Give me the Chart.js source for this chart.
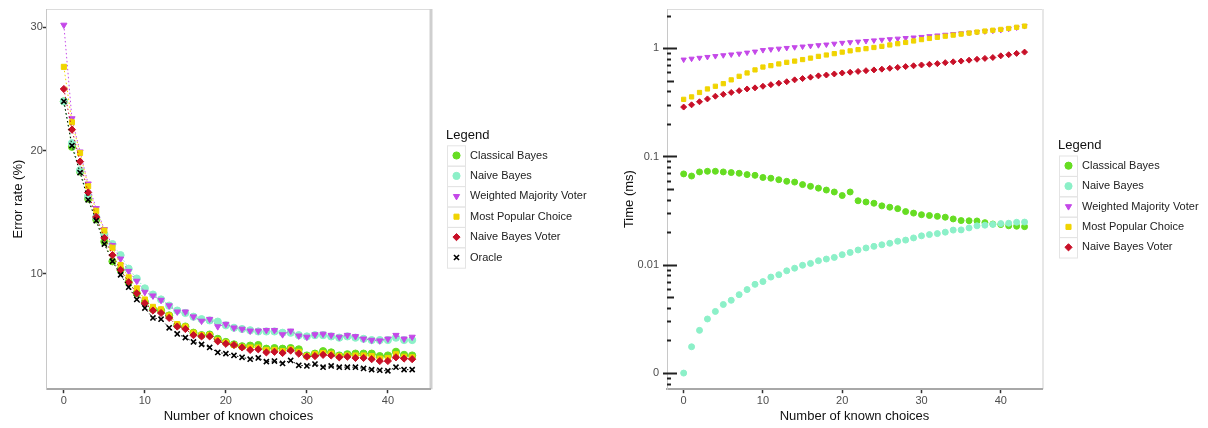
<!DOCTYPE html>
<html>
<head>
<meta charset="utf-8">
<script src="https://cdn.jsdelivr.net/npm/chart.js@4"></script>
<style>
  html, body { margin: 0; padding: 0; background: #fff; }
  #wrap { position: relative; width: 1208px; height: 428px; }
  .box { position: absolute; top: 0; height: 428px; width: 604px; }
</style>
</head>
<body>
<div id="wrap">
  <div class="box" style="left:0"><canvas id="errorChart" width="604" height="428"></canvas></div>
  <div class="box" style="left:604px"><canvas id="timeChart" width="604" height="428"></canvas></div>
</div>
<script>
// x values: number of known choices
const knownChoices = Array.from({ length: 44 }, (_, i) => i);
const choiceTicks = [0, 10, 20, 30, 40];

// left panel: error rate (%)
const errorTicks = [10, 20, 30];
const errClassicalBayes = [24.0, 20.3, 18.3, 16.1, 14.4, 12.6, 11.0, 10.3, 9.3, 8.4,
  7.7, 7.1, 7.0, 6.6, 5.8, 5.7, 5.2, 5.0, 5.05, 4.7,
  4.45, 4.25, 4.1, 4.15, 4.2, 3.9, 3.95, 3.9, 3.95, 3.85,
  3.35, 3.5, 3.7, 3.6, 3.35, 3.45, 3.5, 3.5, 3.5, 3.3,
  3.35, 3.65, 3.4, 3.35];
const errNaiveBayes = [24.0, 20.6, 18.4, 16.3, 14.6, 13.2, 12.4, 11.5, 10.4, 9.6,
  8.8, 8.3, 7.9, 7.4, 7.0, 6.8, 6.5, 6.3, 6.2, 6.1,
  5.8, 5.6, 5.5, 5.4, 5.3, 5.3, 5.3, 5.2, 5.2, 5.0,
  4.9, 5.0, 5.0, 4.9, 4.8, 4.9, 4.8, 4.7, 4.6, 4.6,
  4.6, 4.8, 4.6, 4.6];
const errWeightedMajority = [30.2, 22.6, 19.9, 17.3, 15.3, 13.6, 12.3, 11.2, 10.2, 9.4,
  8.5, 8.2, 7.85, 7.4, 6.9, 6.9, 6.5, 6.15, 6.3, 5.7,
  5.9, 5.6, 5.5, 5.35, 5.35, 5.4, 5.4, 5.05, 5.35, 4.95,
  4.85, 5.05, 5.1, 5.0, 4.85, 5.0, 4.9, 4.7, 4.6, 4.55,
  4.7, 5.0, 4.7, 4.85];
const errMostPopular = [26.8, 22.3, 19.8, 17.1, 15.1, 13.5, 12.1, 10.7, 9.7, 8.8,
  7.9, 7.3, 7.1, 6.6, 5.9, 5.7, 5.2, 5.0, 5.0, 4.6,
  4.4, 4.2, 4.05, 4.0, 4.0, 3.8, 3.8, 3.7, 3.85, 3.65,
  3.3, 3.45, 3.55, 3.5, 3.3, 3.35, 3.35, 3.35, 3.3, 3.1,
  3.15, 3.45, 3.25, 3.2];
const errNaiveBayesVoter = [25.0, 21.7, 19.1, 16.6, 14.6, 12.9, 11.5, 10.3, 9.3, 8.4,
  7.6, 7.0, 6.8, 6.4, 5.7, 5.5, 5.0, 4.9, 4.9, 4.5,
  4.3, 4.2, 4.0, 3.8, 3.85, 3.6, 3.65, 3.55, 3.75, 3.5,
  3.25, 3.3, 3.4, 3.35, 3.2, 3.25, 3.15, 3.15, 3.05, 2.9,
  2.9, 3.2, 3.1, 3.05];
const errOracle = [24.0, 20.4, 18.2, 16.0, 14.3, 12.4, 11.0, 9.9, 8.9, 7.9,
  7.2, 6.4, 6.3, 5.6, 5.1, 4.8, 4.45, 4.25, 4.0, 3.6,
  3.5, 3.35, 3.2, 3.05, 3.15, 2.85, 2.9, 2.7, 2.95, 2.55,
  2.5, 2.65, 2.4, 2.5, 2.4, 2.4, 2.4, 2.3, 2.2, 2.15,
  2.1, 2.4, 2.2, 2.2];

// right panel: time (ms), log axis; the original shows 0 at the 0.001 position
const timeTickValues = [0.001, 0.01, 0.1, 1];
const timeTickLabels = ["0", "0.01", "0.1", "1"];
const timeClassicalBayes = [0.069, 0.066, 0.072, 0.073, 0.073, 0.072, 0.071, 0.070, 0.068, 0.067,
  0.064, 0.063, 0.061, 0.059, 0.058, 0.055, 0.053, 0.051, 0.049, 0.047,
  0.0436, 0.047, 0.039, 0.038, 0.037, 0.035, 0.034, 0.033, 0.031, 0.030,
  0.029, 0.0285, 0.028, 0.0275, 0.0265, 0.0256, 0.0255, 0.0254, 0.0245, 0.0238,
  0.0235, 0.0229, 0.0227, 0.0225];
const timeNaiveBayes = [0, 0.00175, 0.00248, 0.00316, 0.00371, 0.0043, 0.0047, 0.0053, 0.0059, 0.0066,
  0.007, 0.0077, 0.0081, 0.0088, 0.0093, 0.0099, 0.0103, 0.0109, 0.0113, 0.0117,
  0.0124, 0.013, 0.0137, 0.0143, 0.0148, 0.0153, 0.0158, 0.0165, 0.0169, 0.0177,
  0.0185, 0.019, 0.0194, 0.02, 0.0209, 0.021, 0.0219, 0.0229, 0.0232, 0.0236,
  0.024, 0.0242, 0.0247, 0.0248];
const timeWeightedMajority = [0.785, 0.80, 0.815, 0.83, 0.845, 0.86, 0.875, 0.89, 0.91, 0.93,
  0.96, 0.975, 0.99, 1.005, 1.02, 1.035, 1.05, 1.065, 1.08, 1.10,
  1.12, 1.135, 1.15, 1.165, 1.18, 1.195, 1.21, 1.225, 1.24, 1.255,
  1.27, 1.29, 1.31, 1.33, 1.35, 1.37, 1.39, 1.41, 1.43, 1.45,
  1.47, 1.51, 1.55, 1.6];
const timeMostPopular = [0.337, 0.355, 0.39, 0.42, 0.445, 0.47, 0.51, 0.55, 0.59, 0.63,
  0.67, 0.69, 0.715, 0.74, 0.76, 0.785, 0.81, 0.84, 0.865, 0.89,
  0.92, 0.945, 0.97, 0.99, 1.015, 1.04, 1.07, 1.1, 1.13, 1.165,
  1.2, 1.23, 1.26, 1.29, 1.32, 1.35, 1.38, 1.41, 1.44, 1.465,
  1.49, 1.52, 1.56, 1.6];
const timeNaiveBayesVoter = [0.286, 0.30, 0.32, 0.34, 0.36, 0.375, 0.39, 0.405, 0.42, 0.43,
  0.445, 0.46, 0.475, 0.49, 0.51, 0.524, 0.54, 0.555, 0.565, 0.578,
  0.59, 0.60, 0.61, 0.62, 0.63, 0.64, 0.652, 0.664, 0.676, 0.688,
  0.70, 0.71, 0.72, 0.735, 0.748, 0.76, 0.775, 0.79, 0.805, 0.82,
  0.85, 0.87, 0.895, 0.92];

const seriesStyle = {
  classical: { label: "Classical Bayes", color: "rgb(102, 221, 34)", pointStyle: "circle", rotation: 0 },
  naive: { label: "Naive Bayes", color: "rgb(140, 240, 200)", pointStyle: "circle", rotation: 0 },
  weighted: { label: "Weighted Majority Voter", color: "rgb(196, 72, 232)", pointStyle: "triangle", rotation: 180 },
  popular: { label: "Most Popular Choice", color: "rgb(240, 212, 0)", pointStyle: "rect", rotation: 0 },
  voter: { label: "Naive Bayes Voter", color: "rgb(200, 16, 40)", pointStyle: "rectRot", rotation: 0 },
  oracle: { label: "Oracle", color: "rgb(0, 0, 0)", pointStyle: "crossRot", rotation: 0 },
};

Chart.defaults.font.family = "'Liberation Sans', Arial, sans-serif";
Chart.defaults.animation = false;

// panel frame: light top/right border
const panelFrame = {
  id: "panelFrame",
  beforeDraw(chart) {
    const { ctx, chartArea: a } = chart;
    ctx.save();
    ctx.strokeStyle = "#dcdcdc";
    ctx.lineWidth = 1;
    ctx.beginPath();
    ctx.moveTo(a.left, a.top + 0.5);
    ctx.lineTo(a.right, a.top + 0.5);
    ctx.stroke();
    ctx.lineWidth = chart.options.frameRight || 1;
    ctx.strokeStyle = "#cfcfcf";
    ctx.beginPath();
    ctx.moveTo(a.right + 1, a.top);
    ctx.lineTo(a.right + 1, a.bottom);
    ctx.stroke();
    ctx.restore();
  },
};

// log-axis ticks: long at decades, short in between
const logTicks = {
  id: "logTicks",
  afterDraw(chart) {
    const y = chart.scales.y;
    const { ctx } = chart;
    const x0 = chart.chartArea.left;
    ctx.save();
    ctx.strokeStyle = "#222";
    ctx.lineWidth = 2;
    for (let d = 0.0001; d <= 1; d *= 10) {
      for (let m = 1; m <= 9; m++) {
        const v = d * m;
        if (v < y.min || v > y.max) continue;
        const py = Math.round(y.getPixelForValue(v)) + 0.5;
        let a = x0, b = x0 + 4;
        if (m === 1) { a = x0 - 4; b = x0 + 10; }
        else if (m === 5) { b = x0 + 7; }
        ctx.beginPath();
        ctx.moveTo(a, py);
        ctx.lineTo(b, py);
        ctx.stroke();
      }
    }
    ctx.restore();
  },
};

// ggplot-like legend with key boxes, placed right of the panel
const keyLegend = {
  id: "keyLegend",
  afterDraw(chart) {
    const { ctx, chartArea: a } = chart;
    const sets = chart.data.datasets;
    const rowH = 20.4;
    const x = a.right + 17;
    const mid = 206.5;
    const y0 = mid - (sets.length * rowH) / 2;
    ctx.save();
    ctx.font = "13px 'Liberation Sans', Arial, sans-serif";
    ctx.fillStyle = "#111";
    ctx.textBaseline = "middle";
    ctx.textAlign = "left";
    ctx.fillText("Legend", x - 1, y0 - 10);
    sets.forEach((ds, i) => {
      const cy = y0 + i * rowH + rowH / 2;
      ctx.strokeStyle = "#e4e4e4";
      ctx.lineWidth = 1;
      ctx.strokeRect(x + 0.5, y0 + i * rowH + 0.5, 18, rowH);
      ctx.fillStyle = ds.pointBackgroundColor;
      ctx.strokeStyle = ds.pointBorderColor;
      ctx.lineWidth = ds.pointBorderWidth;
      Chart.helpers.drawPoint(ctx, {
        pointStyle: ds.pointStyle,
        rotation: ds.pointRotation,
        radius: 3.6,
        borderWidth: ds.pointBorderWidth,
      }, x + 9.5, cy);
      ctx.font = "11px 'Liberation Sans', Arial, sans-serif";
      ctx.fillStyle = "#222";
      ctx.fillText(ds.label, x + 23, cy);
    });
    ctx.restore();
  },
};

function makeDataset(key, values, opts) {
  const s = seriesStyle[key];
  return {
    label: s.label,
    data: values.map((v, i) => ({ x: knownChoices[i], y: v })),
    pointStyle: s.pointStyle,
    pointRotation: s.rotation,
    backgroundColor: s.color,
    borderColor: s.color,
    pointBorderColor: s.color,
    pointBackgroundColor: s.color,
    pointBorderWidth: key === "oracle" ? 1.6 : 1,
    pointRadius: opts.radius,
    borderWidth: 1,
    borderDash: [1.5, 2.5],
    showLine: opts.line,
    order: opts.order,
  };
}

function xAxis() {
  return {
    type: "linear",
    min: -2.1,
    max: 45.2,
    afterBuildTicks: (s) => { s.ticks = choiceTicks.map((v) => ({ value: v })); },
    grid: { drawOnChartArea: false, tickLength: 4, tickColor: "#333", tickWidth: 1.5 },
    border: { display: true, color: "#a8a8a8", width: 2 },
    ticks: { color: "#4d4d4d", font: { size: 11 }, padding: 1, maxRotation: 0 },
    title: { display: true, text: "Number of known choices", color: "#111", font: { size: 13 }, padding: { top: 0, bottom: 4 } },
  };
}

// left chart: error rate
const errKeys = ["classical", "naive", "weighted", "popular", "voter", "oracle"];
const errSeries = [errClassicalBayes, errNaiveBayes, errWeightedMajority, errMostPopular, errNaiveBayesVoter, errOracle];
new Chart(document.getElementById("errorChart"), {
  type: "scatter",
  data: {
    datasets: errKeys.map((k, i) => makeDataset(k, errSeries[i], { radius: 3.6, line: true, order: errKeys.length - i })),
  },
  options: {
    responsive: false,
    frameRight: 3,
    layout: { padding: { top: 9, left: 11, right: 174, bottom: 0 } },
    plugins: { legend: { display: false }, tooltip: { enabled: false } },
    scales: {
      x: xAxis(),
      y: {
        type: "linear",
        min: 0.61,
        max: 31.5,
        afterBuildTicks: (s) => { s.ticks = errorTicks.map((v) => ({ value: v })); },
        grid: { drawOnChartArea: false, tickLength: 4, tickColor: "#333", tickWidth: 1.5 },
        border: { display: true, color: "#c8c8c8", width: 1 },
        ticks: { color: "#4d4d4d", font: { size: 11 }, padding: 0 },
        title: { display: true, text: "Error rate (%)", color: "#111", font: { size: 13 }, padding: { top: 0, bottom: 4 } },
      },
    },
  },
  plugins: [panelFrame, keyLegend],
});

// right chart: processing time on log axis
const timeKeys = ["classical", "naive", "weighted", "popular", "voter"];
const timeSeries = [timeClassicalBayes, timeNaiveBayes, timeWeightedMajority, timeMostPopular, timeNaiveBayesVoter];
const zeroAt = timeTickValues[0];
new Chart(document.getElementById("timeChart"), {
  type: "scatter",
  data: {
    datasets: timeKeys.map((k, i) =>
      makeDataset(k, timeSeries[i].map((v) => (v === 0 ? zeroAt : v)), { radius: 3, line: false, order: timeKeys.length - i })
    ),
  },
  options: {
    responsive: false,
    frameRight: 1,
    layout: { padding: { top: 9, left: 18, right: 166, bottom: 0 } },
    plugins: { legend: { display: false }, tooltip: { enabled: false } },
    scales: {
      x: xAxis(),
      y: {
        type: "logarithmic",
        min: 0.00071,
        max: 2.3,
        afterBuildTicks: (s) => { s.ticks = timeTickValues.map((v) => ({ value: v })); },
        grid: { display: false },
        border: { display: true, color: "#c8c8c8", width: 1 },
        ticks: { color: "#4d4d4d", font: { size: 11 }, padding: 0, callback: (v, i) => timeTickLabels[i] },
        title: { display: true, text: "Time (ms)", color: "#111", font: { size: 13 }, padding: { top: 0, bottom: 0 } },
      },
    },
  },
  plugins: [panelFrame, logTicks, keyLegend],
});
</script>
</body>
</html>
